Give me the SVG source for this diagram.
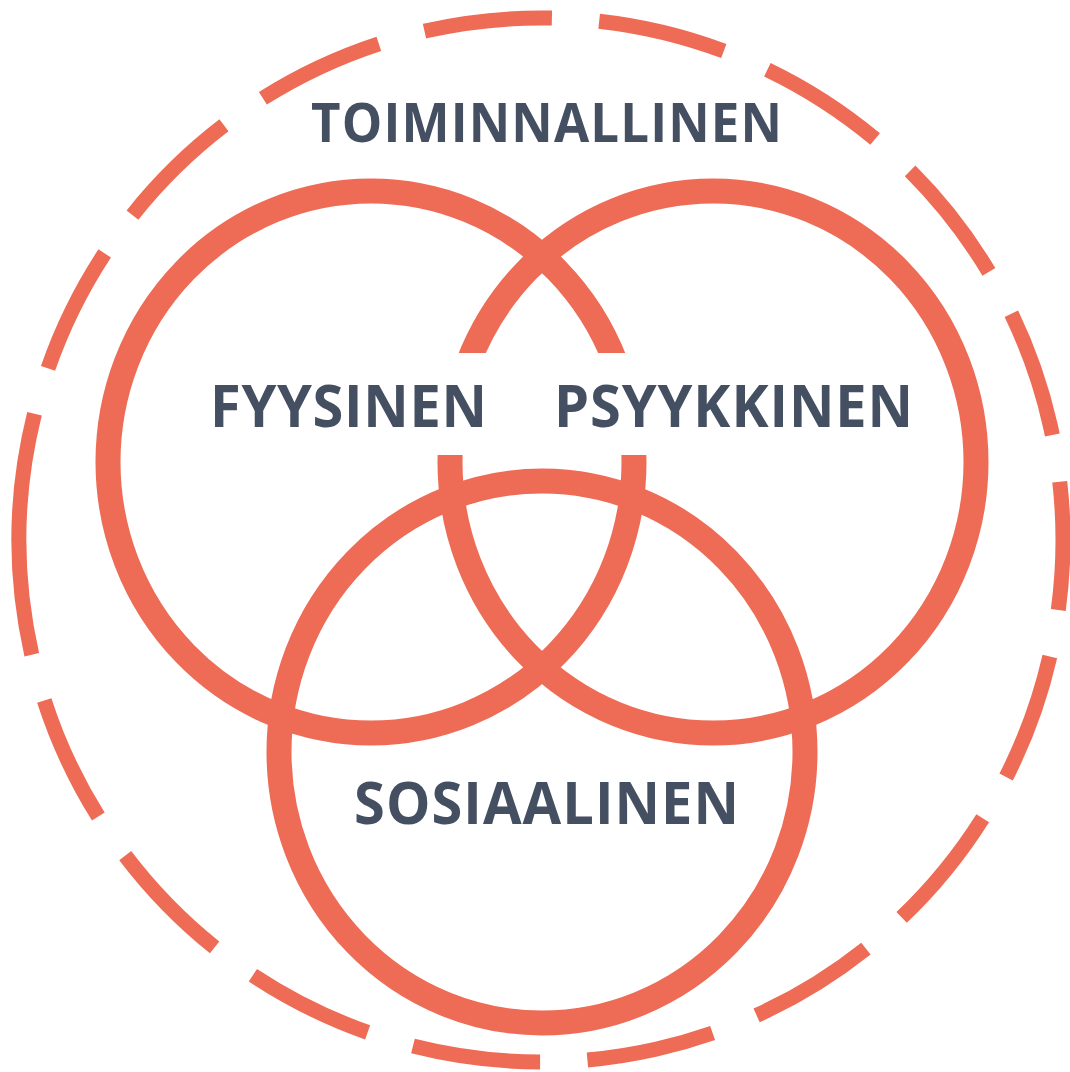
<svg xmlns="http://www.w3.org/2000/svg" width="1070" height="1072" viewBox="0 0 1070 1072">
  <style>
    .ring { fill: none; stroke: #EE6B55; stroke-width: 25; }
    .outer { fill: none; stroke: #EE6B55; stroke-width: 15; }
    .label { font-family: "Open Sans", "Liberation Sans", sans-serif; font-weight: 700; fill: #454F62; text-anchor: middle; }
  </style>
  <defs>
    <mask id="labelGap" maskUnits="userSpaceOnUse" x="0" y="0" width="1070" height="1072">
      <rect x="0" y="0" width="1070" height="1072" fill="#fff"/>
      <rect x="400" y="353" width="290" height="102" fill="#000"/>
    </mask>
  </defs>
  <rect width="1070" height="1072" fill="#fff"/>

  <g id="toiminnallinen">
    <circle class="outer" cx="541" cy="540" r="522" pathLength="360" transform="rotate(167.3 541 540)"
      stroke-dasharray="26.7 5.2 14.1 5.2 14.1 5.2 14.1 5.2 14.1 5.2 14.1 5.2 14.1 5.2 14.1 5.2 14.1 5.2 14.1 5.2 14.1 5.2 14.1 5.2 14.1 5.2 14.1 5.2 14.1 5.2 14.1 5.2 14.1 5.2 14.1 5.2"/>
    <text class="label" transform="translate(546.5 142) scale(1 1.06)" font-size="51" textLength="471">TOIMINNALLINEN</text>
  </g>

  <g id="fyysinen">
    <ellipse class="ring" cx="371" cy="462" rx="263" ry="271" mask="url(#labelGap)"/>
    <text class="label" transform="translate(348.5 427) scale(1 1.065)" font-size="56" textLength="277">FYYSINEN</text>
  </g>

  <g id="psyykkinen">
    <ellipse class="ring" cx="713" cy="462" rx="263" ry="271" mask="url(#labelGap)"/>
    <text class="label" transform="translate(733.5 427) scale(1 1.065)" font-size="56" textLength="359">PSYYKKINEN</text>
  </g>

  <g id="sosiaalinen">
    <ellipse class="ring" cx="542" cy="752" rx="263" ry="271"/>
    <text class="label" transform="translate(546.5 824) scale(1 1.065)" font-size="56" textLength="385">SOSIAALINEN</text>
  </g>

  <g id="connectors"/>
</svg>
